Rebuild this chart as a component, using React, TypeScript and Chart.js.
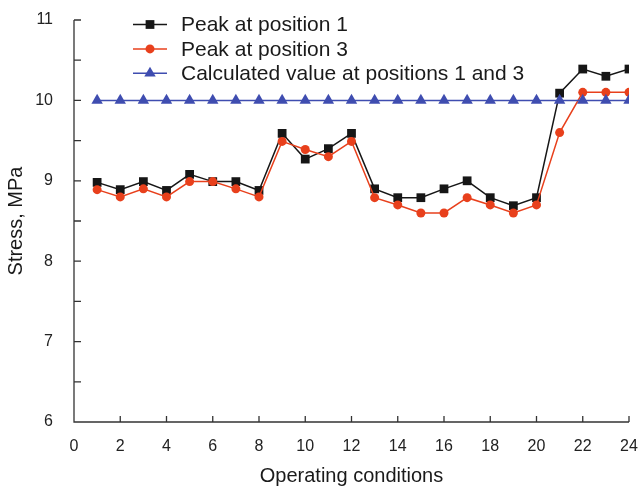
import React, { useEffect, useRef } from "react";
import { Chart, registerables } from "chart.js";

Chart.register(...registerables);

const conditions = [1, 2, 3, 4, 5, 6, 7, 8, 9, 10, 11, 12, 13, 14, 15, 16, 17, 18, 19, 20, 21, 22, 23, 24];
const peakPosition1 = [8.98, 8.89, 8.99, 8.88, 9.08, 8.99, 8.99, 8.88, 9.59, 9.27, 9.4, 9.59, 8.9, 8.79, 8.79, 8.9, 9.0, 8.79, 8.69, 8.79, 10.09, 10.39, 10.3, 10.39];
const peakPosition3 = [8.89, 8.8, 8.9, 8.8, 8.99, 8.99, 8.9, 8.8, 9.49, 9.39, 9.3, 9.49, 8.79, 8.7, 8.6, 8.6, 8.79, 8.7, 8.6, 8.7, 9.6, 10.1, 10.1, 10.1];
const calculatedValue = [10, 10, 10, 10, 10, 10, 10, 10, 10, 10, 10, 10, 10, 10, 10, 10, 10, 10, 10, 10, 10, 10, 10, 10];

const seriesLabels = ["Peak at position 1", "Peak at position 3", "Calculated value at positions 1 and 3"];
const seriesColors = ["#161616", "#e8401c", "#3f4db0"];
const seriesMarkers = ["rect", "circle", "triangle"];
const markerRadius = [6.2, 4.5, 6.6];

const xTickValues = [0, 2, 4, 6, 8, 10, 12, 14, 16, 18, 20, 22, 24];
const yTickValues = [6, 6.5, 7, 7.5, 8, 8.5, 9, 9.5, 10, 10.5, 11];

const FONT = "'Liberation Sans', Arial, sans-serif";
const AXIS_COLOR = "#333333";

function drawMarker(ctx: CanvasRenderingContext2D, style: string, x: number, y: number, r: number, color: string) {
  ctx.save();
  ctx.fillStyle = color;
  ctx.beginPath();
  if (style === "rect") {
    const s = r / Math.SQRT2;
    ctx.rect(x - s, y - s, 2 * s, 2 * s);
  } else if (style === "circle") {
    ctx.arc(x, y, r, 0, Math.PI * 2);
  } else {
    for (let i = 0; i < 3; i++) {
      const a = (i * 2 * Math.PI) / 3;
      const px = x + Math.sin(a) * r;
      const py = y - Math.cos(a) * r;
      if (i === 0) ctx.moveTo(px, py);
      else ctx.lineTo(px, py);
    }
    ctx.closePath();
  }
  ctx.fill();
  ctx.restore();
}

const axesPlugin = {
  id: "inwardAxes",
  beforeDatasetsDraw(chart: any) {
    const { ctx, chartArea, scales } = chart;
    const { left, right, top, bottom } = chartArea;
    ctx.save();
    ctx.strokeStyle = AXIS_COLOR;
    ctx.lineWidth = 1.3;
    ctx.beginPath();
    ctx.moveTo(left, top);
    ctx.lineTo(left, bottom);
    ctx.lineTo(right, bottom);
    for (const v of yTickValues) {
      const py = scales.y.getPixelForValue(v);
      ctx.moveTo(left, py);
      ctx.lineTo(left + 7, py);
    }
    for (const v of xTickValues) {
      const px = scales.x.getPixelForValue(v);
      ctx.moveTo(px, bottom);
      ctx.lineTo(px, bottom - 6);
    }
    ctx.stroke();
    ctx.restore();
  },
};

const legendPlugin = {
  id: "innerLegend",
  afterDraw(chart: any) {
    const { ctx, chartArea } = chart;
    const x0 = chartArea.left + 59;
    const x1 = chartArea.left + 93;
    const xm = (x0 + x1) / 2;
    const tx = chartArea.left + 107;
    ctx.save();
    ctx.font = `21px ${FONT}`;
    ctx.textBaseline = "middle";
    ctx.textAlign = "left";
    seriesLabels.forEach((label, i) => {
      const y = chartArea.top + 4.5 + i * 24.4;
      ctx.strokeStyle = seriesColors[i];
      ctx.lineWidth = 1.5;
      ctx.beginPath();
      ctx.moveTo(x0, y);
      ctx.lineTo(x1, y);
      ctx.stroke();
      drawMarker(ctx, seriesMarkers[i], xm, y, markerRadius[i], seriesColors[i]);
      ctx.fillStyle = "#1a1a1a";
      ctx.fillText(label, tx, y + 1);
    });
    ctx.restore();
  },
};

export default function App() {
  const canvasRef = useRef<HTMLCanvasElement | null>(null);

  useEffect(() => {
    if (!canvasRef.current) return;
    const seriesValues = [peakPosition1, peakPosition3, calculatedValue];
    const orders = [2, 1, 0];
    const datasets = seriesValues.map((vals, i) => ({
      label: seriesLabels[i],
      data: conditions.map((c, j) => ({ x: c, y: vals[j] })),
      borderColor: seriesColors[i],
      backgroundColor: seriesColors[i],
      borderWidth: 1.5,
      pointStyle: seriesMarkers[i] as any,
      pointRadius: markerRadius[i],
      pointBorderWidth: 0,
      pointBackgroundColor: seriesColors[i],
      pointBorderColor: seriesColors[i],
      tension: 0,
      order: orders[i],
    }));

    const chart = new Chart(canvasRef.current, {
      type: "line",
      data: { datasets },
      plugins: [axesPlugin, legendPlugin],
      options: {
        animation: false,
        responsive: false,
        devicePixelRatio: 1,
        layout: { padding: { top: 20, right: 10, left: 0, bottom: 0 } },
        plugins: {
          legend: { display: false },
          tooltip: { enabled: false },
        },
        scales: {
          x: {
            type: "linear",
            min: 0,
            max: 24,
            grid: { display: false },
            border: { display: false },
            ticks: {
              stepSize: 2,
              padding: 7,
              color: "#222222",
              font: { family: FONT, size: 16 },
              maxRotation: 0,
            },
            title: {
              display: true,
              text: "Operating conditions",
              color: "#1a1a1a",
              font: { family: FONT, size: 20 },
              padding: { top: 0, bottom: 0 },
            },
            afterFit(scale: any) {
              scale.height = 66;
              scale.paddingLeft = 0;
              scale.paddingRight = 0;
            },
          },
          y: {
            type: "linear",
            min: 6,
            max: 11,
            grid: { display: false },
            border: { display: false },
            ticks: {
              stepSize: 1,
              padding: 13,
              color: "#222222",
              font: { family: FONT, size: 16 },
            },
            title: {
              display: true,
              text: "Stress, MPa",
              color: "#1a1a1a",
              font: { family: FONT, size: 20 },
              padding: { top: 4, bottom: 0 },
            },
            afterFit(scale: any) {
              scale.width = 74;
              scale.paddingTop = 0;
              scale.paddingBottom = 0;
            },
          },
        },
      },
    });
    return () => chart.destroy();
  }, []);

  return (
    <div style={{ position: "absolute", left: 0, top: 0, width: 639, height: 488, background: "#ffffff" }}>
      <canvas ref={canvasRef} width={639} height={488} style={{ display: "block", width: 639, height: 488 }} />
    </div>
  );
}
